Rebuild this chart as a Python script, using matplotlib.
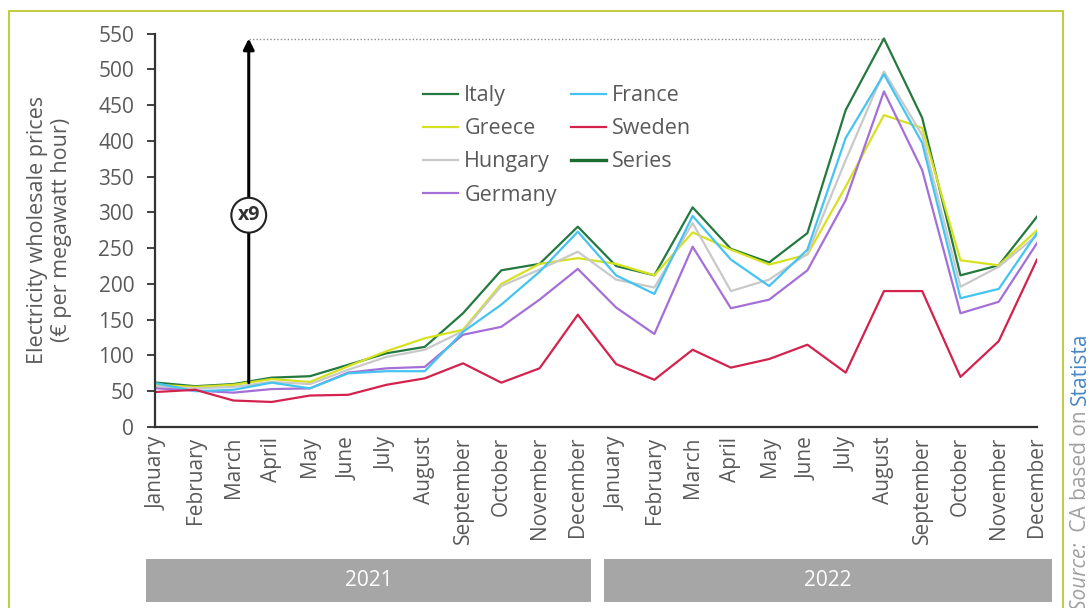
import matplotlib.pyplot as plt
from matplotlib.lines import Line2D
from matplotlib.patches import Rectangle
import numpy as np

plt.rcParams['font.family'] = ['Open Sans', 'DejaVu Sans']

months = ['January', 'February', 'March', 'April', 'May', 'June', 'July',
          'August', 'September', 'October', 'November', 'December']
labels = months + months
years = ['2021', '2022']

italy = [62, 57, 60, 69, 71, 87, 103, 112, 159, 219, 228, 280,
         225, 212, 307, 249, 230, 271, 443, 543, 432, 212, 226, 294]
france = [61, 50, 52, 62, 54, 75, 78, 78, 133, 171, 217, 273,
          212, 186, 295, 234, 197, 248, 404, 493, 397, 180, 193, 271]
greece = [59, 56, 59, 67, 63, 85, 106, 124, 136, 200, 228, 236,
          228, 212, 272, 248, 227, 241, 336, 436, 418, 233, 226, 275]
hungary = [57, 54, 56, 63, 60, 80, 98, 108, 134, 197, 220, 245,
           206, 195, 285, 190, 206, 242, 373, 497, 408, 196, 224, 268]
germany = [54, 51, 48, 53, 54, 76, 82, 84, 129, 140, 178, 221,
           167, 130, 252, 166, 178, 219, 317, 469, 359, 159, 175, 257]
sweden = [49, 52, 37, 35, 44, 45, 59, 68, 89, 62, 82, 157,
          88, 66, 108, 83, 95, 115, 76, 190, 190, 70, 120, 234]

# arrow from the early 2021 level up to the August 2022 peak
arrow_x = 2.4
arrow_low = 62
arrow_high = max(italy)

grey = '#5a5a5a'
W, H = 1090, 608
fig = plt.figure(figsize=(W / 100, H / 100), dpi=100)

# outer frame
fig.patches.append(Rectangle((9 / W, -0.1), (1063 - 9) / W, 1.1 - 11 / H,
                             transform=fig.transFigure, fill=False,
                             edgecolor='#b8c41e', linewidth=1.2))

ax = fig.add_axes([155 / W, 1 - 427 / H, (1037 - 155) / W, (427 - 33.5) / H])
x = np.arange(len(labels))

ax.plot(x, italy, color='#23793f', lw=1.6, label='Italy')
ax.plot(x, greece, color='#d6e21f', lw=1.6, label='Greece')
ax.plot(x, hungary, color='#c9c9c9', lw=1.6, label='Hungary')
ax.plot(x, germany, color='#a56fd8', lw=1.6, label='Germany')
ax.plot(x, france, color='#45c4f2', lw=1.6, label='France')
ax.plot(x, sweden, color='#d3224e', lw=1.6, label='Sweden')

ax.set_xlim(-0.05, 23)
ax.set_ylim(0, 550)
ax.set_yticks(np.arange(0, 551, 50))
ax.set_xticks(x)
ax.set_xticklabels(labels, rotation=90, fontsize=15, color=grey)
ax.tick_params(axis='y', labelsize=15, colors=grey, length=6, width=1.3,
               color='#333333', pad=9)
ax.tick_params(axis='x', length=0, pad=7)
for s in ['top', 'right']:
    ax.spines[s].set_visible(False)
for s in ['left', 'bottom']:
    ax.spines[s].set_color('#333333')
    ax.spines[s].set_linewidth(1.6)

ax.set_ylabel('Electricity wholesale prices\n(€ per megawatt hour)',
              fontsize=15.5, color=grey, linespacing=1.2)
ax.yaxis.set_label_coords(-0.094, 0.5)

# x9 arrow and dotted guide
ax.plot([arrow_x, 19], [arrow_high, arrow_high], color='#8c8c8c', lw=1.0,
        ls=(0, (1, 1.5)), zorder=1)
ax.annotate('', xy=(arrow_x, arrow_high), xytext=(arrow_x, arrow_low),
            arrowprops=dict(arrowstyle='-|>', color='black', lw=2.2,
                            mutation_scale=16, shrinkA=0, shrinkB=0))
ax.text(arrow_x, 296, 'x9', ha='center', va='center', fontsize=14,
        fontweight='bold', color='#333333',
        bbox=dict(boxstyle='circle,pad=0.32', fc='white', ec='#222222', lw=1.5))

handles, names = ax.get_legend_handles_labels()
handles.append(Line2D([], [], color='#1b6b33', lw=2.4))
names.append('Series')
leg = ax.legend(handles, names, ncol=2, loc='upper left',
                bbox_to_anchor=(404 / W, 1 - 66 / H), bbox_transform=fig.transFigure,
                frameon=False, fontsize=15.5, handlelength=1.6, handletextpad=0.3,
                labelspacing=0.56, columnspacing=0.68, labelcolor=grey)

# year bands under the month labels
for left, right, yr in [(146, 591, years[0]), (604, 1052, years[1])]:
    fig.patches.append(Rectangle((left / W, 1 - 602 / H), (right - left) / W, 43 / H,
                                 transform=fig.transFigure, facecolor='#a6a6a6',
                                 edgecolor='none'))
    fig.text((left + right) / 2 / W, 1 - 581 / H, yr, ha='center', va='center',
             fontsize=15, color='white')

# source note, written bottom to top
fig.canvas.draw()
renderer = fig.canvas.get_renderer()
y0 = 1 - 610 / H
parts = [('Source: ', '#a0a0a0', 'italic'), (' CA based on ', '#a0a0a0', 'normal'),
         ('Statista', '#4a86c4', 'normal')]
for txt, col, style in parts:
    t = fig.text(1080 / W, y0, txt, rotation=90, ha='center', va='bottom',
                 fontsize=15, color=col, style=style)
    bb = t.get_window_extent(renderer)
    y0 += bb.height / H

fig.savefig('out.png', dpi=100)
